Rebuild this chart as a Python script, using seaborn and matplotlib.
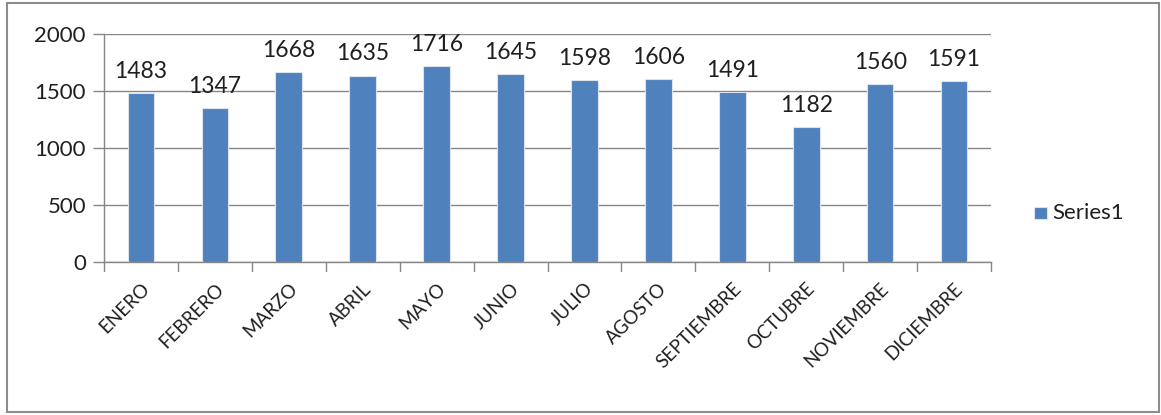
import matplotlib
matplotlib.use("Agg")
import matplotlib.pyplot as plt
import seaborn as sns
import pandas as pd
from matplotlib.patches import Rectangle

months = ["ENERO", "FEBRERO", "MARZO", "ABRIL", "MAYO", "JUNIO", "JULIO",
          "AGOSTO", "SEPTIEMBRE", "OCTUBRE", "NOVIEMBRE", "DICIEMBRE"]
values = [1483, 1347, 1668, 1635, 1716, 1645, 1598, 1606, 1491, 1182, 1560, 1591]
series_name = "Series1"
y_ticks = [0, 500, 1000, 1500, 2000]

bar_color = "#4F81BD"
grid_color = "#868686"
text_color = "#1F1F1F"

sns.set_theme(style="white")
plt.rcParams["font.family"] = ["Lato", "DejaVu Sans"]

df = pd.DataFrame({"mes": months, "valor": values, "serie": series_name})

W, H = 1161, 415
fig = plt.figure(figsize=(W / 100, H / 100), dpi=100)
ax = fig.add_axes([104 / W, 1 - 262 / H, (991 - 104) / W, (262 - 34) / H])

sns.barplot(data=df, x="mes", y="valor", hue="serie", palette=[bar_color],
            saturation=1, width=0.36, ax=ax, legend=False, zorder=3,
            edgecolor="#DCE3EE", linewidth=0.8)

ax.set_ylim(0, 2000)
ax.set_xlim(-0.5, len(months) - 0.5)
ax.set_yticks(y_ticks)
ax.set_yticklabels([str(t) for t in y_ticks], fontsize=16, color=text_color)
ax.yaxis.grid(True, color=grid_color, linewidth=1.0, zorder=0)
ax.set_axisbelow(True)
ax.tick_params(axis="y", length=8, width=1.0, color=grid_color, pad=5, left=True)

# category ticks sit between the bars
ax.set_xticks(range(len(months)))
ax.set_xticklabels(months, rotation=45, ha="right", rotation_mode="anchor",
                   fontsize=13.5, color=text_color)
ax.tick_params(axis="x", length=0, pad=13, bottom=False)
for b in [i - 0.5 for i in range(len(months) + 1)]:
    ax.plot([b, b], [0, -0.04], transform=ax.get_xaxis_transform(),
            color=grid_color, lw=1.0, clip_on=False)

for s in ["top", "right"]:
    ax.spines[s].set_visible(False)
ax.spines["left"].set_color(grid_color)
ax.spines["bottom"].set_color(grid_color)
ax.spines["left"].set_linewidth(1.0)
ax.spines["bottom"].set_linewidth(1.0)
ax.set_xlabel("")
ax.set_ylabel("")

for container in ax.containers:
    ax.bar_label(container, labels=[str(v) for v in values], padding=8,
                 fontsize=16.5, color=text_color)

# legend entry
fig.patches.append(Rectangle((1034 / W, 1 - 219 / H), 13 / W, 12 / H,
                             transform=fig.transFigure, facecolor=bar_color,
                             edgecolor="#DCE3EE", lw=0.8))
fig.text(1052 / W, 1 - 213 / H, series_name, fontsize=16, color=text_color,
         va="center", ha="left")

# outer chart border
fig.patches.append(Rectangle((7 / W, 1 - 412 / H), (1159 - 7) / W, (412 - 3) / H,
                             transform=fig.transFigure, fill=False,
                             edgecolor="#8C8C8C", lw=1.5))

fig.savefig("out.png", dpi=100)
